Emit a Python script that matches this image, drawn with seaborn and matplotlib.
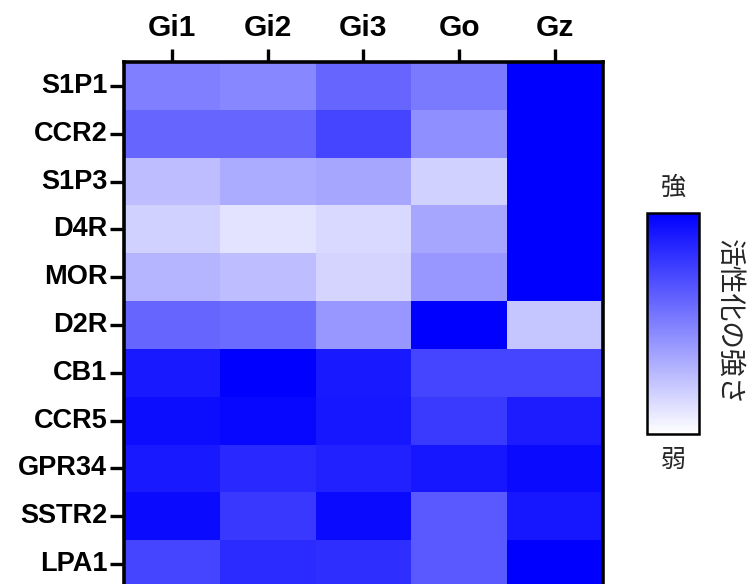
import numpy as np
import pandas as pd
import matplotlib
matplotlib.use("Agg")
import matplotlib.pyplot as plt
import seaborn as sns

sns.set_theme(style="white")
plt.rcParams["font.family"] = ["Liberation Sans", "Noto Sans CJK JP", "DejaVu Sans"]

# G protein subtypes (columns) and receptors (rows)
g_proteins = ["Gi1", "Gi2", "Gi3", "Go", "Gz"]
receptors = ["S1P1", "CCR2", "S1P3", "D4R", "MOR", "D2R",
             "CB1", "CCR5", "GPR34", "SSTR2", "LPA1"]

# relative activation strength (0 = weak, 1 = strong)
gi1 = [0.50, 0.60, 0.26, 0.18, 0.29, 0.60, 0.90, 0.95, 0.90, 0.96, 0.73]
gi2 = [0.47, 0.60, 0.33, 0.11, 0.26, 0.58, 1.00, 0.97, 0.84, 0.78, 0.83]
gi3 = [0.60, 0.73, 0.35, 0.15, 0.17, 0.41, 0.90, 0.91, 0.87, 0.96, 0.82]
go = [0.52, 0.44, 0.18, 0.35, 0.41, 1.00, 0.73, 0.77, 0.91, 0.65, 0.65]
gz = [1.00, 1.00, 1.00, 1.00, 1.00, 0.23, 0.73, 0.89, 0.96, 0.91, 1.00]

df = pd.DataFrame({"Gi1": gi1, "Gi2": gi2, "Gi3": gi3, "Go": go, "Gz": gz},
                  index=receptors)[g_proteins]

cmap = sns.blend_palette(["#ffffff", "#0000ff"], as_cmap=True)

fig = plt.figure(figsize=(7.5, 5.84), dpi=100)
ax = fig.add_axes([0.1653, -0.0068, 0.6387, 0.9006])
cax = fig.add_axes([0.863, 0.2568, 0.0693, 0.3784])

sns.heatmap(df, ax=ax, cbar_ax=cax, cmap=cmap, vmin=0, vmax=1,
            linewidths=0, square=False)

# frame and ticks
for s in ax.spines.values():
    s.set_visible(True)
    s.set_linewidth(2.6)
    s.set_color("black")
ax.xaxis.tick_top()
ax.tick_params(axis="x", top=True, bottom=False, direction="out",
               length=9.5, width=2.4, pad=5, labelsize=21.5, colors="black")
ax.tick_params(axis="y", left=True, direction="out",
               length=10, width=2.4, pad=2, labelsize=19.5, colors="black")
for lab in ax.get_xticklabels() + ax.get_yticklabels():
    lab.set_fontweight("bold")
ax.set_yticklabels(receptors, rotation=0)
ax.set_xlabel("")
ax.set_ylabel("")

# colorbar
cbar = ax.collections[0].colorbar
cbar.outline.set_linewidth(1.8)
cbar.outline.set_edgecolor("black")
cbar.set_ticks([1 / 3, 2 / 3])
cax.tick_params(axis="y", left=True, right=True, labelleft=False,
                labelright=False, direction="in", length=4, width=1.5,
                colors="black")
cax.text(0.5, 1.113, "強", transform=cax.transAxes, ha="center", va="center",
         fontsize=18)
cax.text(0.5, -0.117, "弱", transform=cax.transAxes, ha="center", va="center",
         fontsize=18)
fig.text(0.9705, 0.449, "活性化の強さ", rotation=270, ha="center", va="center",
         fontsize=20)

fig.savefig("out.png", dpi=100)
